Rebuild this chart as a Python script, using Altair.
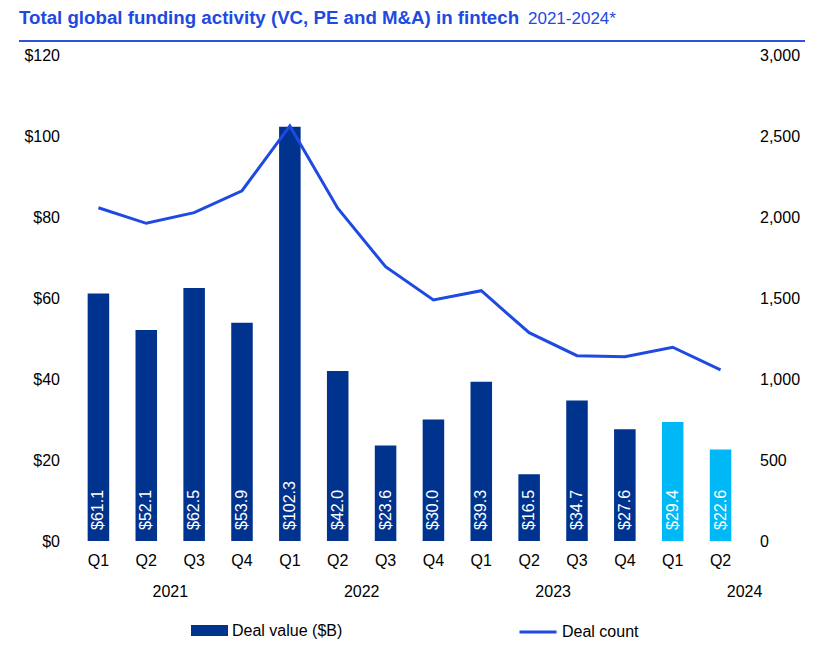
import altair as alt
import pandas as pd

# ---- data ----
years = ["2021"] * 4 + ["2022"] * 4 + ["2023"] * 4 + ["2024"] * 2
quarters = ["Q1", "Q2", "Q3", "Q4"] * 3 + ["Q1", "Q2"]
deal_value = [61.1, 52.1, 62.5, 53.9, 102.3, 42.0, 23.6, 30.0, 39.3, 16.5, 34.7, 27.6, 29.4, 22.6]
deal_count = [2057, 1961, 2027, 2162, 2562, 2054, 1693, 1488, 1545, 1286, 1144, 1138, 1196, 1056]
year_labels = ["2021", "2022", "2023", "2024"]
year_anchor = ["2021 Q2", "2022 Q2", "2023 Q2", "2024 Q2"]
title_main = "Total global funding activity (VC, PE and M&A) in fintech"
title_sub = "2021-2024*"

periods = [f"{y} {q}" for y, q in zip(years, quarters)]
df = pd.DataFrame({
    "period": periods,
    "year": [int(y) for y in years],
    "value": deal_value,
    "count": deal_count,
    "sbar": "Deal value ($B)",
    "sline": "Deal count",
})
df["label"] = ["$" + f"{v:.1f}" for v in deal_value]
ydf = pd.DataFrame({"period": year_anchor, "year": year_labels})

DARK = "#00338D"
LIGHT = "#00B8F5"
LINE = "#1E49E2"
FONT = "Liberation Sans"

W, H = 670, 486

xaxis = alt.Axis(title=None, labelExpr="split(datum.label, ' ')[1]", labelAngle=0,
                 domain=False, ticks=False, grid=False, labelFontSize=16,
                 labelPadding=11, labelColor="#000", labelFont=FONT)
xscale = alt.Scale(paddingInner=0.55, paddingOuter=0.275)


def xenc():
    return alt.X("period:N", sort=periods, scale=xscale, axis=xaxis)


base = alt.Chart(df)

bars = base.mark_bar().encode(
    x=xenc(),
    y=alt.Y("value:Q", scale=alt.Scale(domain=[0, 120], nice=False),
            axis=alt.Axis(title=None, orient="left", values=[0, 20, 40, 60, 80, 100, 120],
                          labelExpr="'$' + datum.value", domain=False, ticks=False, grid=False,
                          labelFontSize=16, labelPadding=15, labelColor="#000", labelFont=FONT)),
    fill=alt.when(alt.datum.year == 2024).then(alt.value(LIGHT)).otherwise(
        alt.Fill("sbar:N", scale=alt.Scale(domain=["Deal value ($B)"], range=[DARK]),
                 legend=alt.Legend(title=None, orient="none", legendX=116.5, legendY=557,
                                   symbolType="M-1,-0.3H1V0.3H-1Z", symbolSize=1369,
                                   symbolStrokeWidth=0, symbolOpacity=1,
                                   labelFontSize=16, labelColor="#000", labelOffset=4,
                                   padding=0, labelFont=FONT))
    ),
)

bar_labels = base.mark_text(angle=270, align="left", baseline="middle", dx=11,
                            color="white", fontSize=16, font=FONT).encode(
    x=xenc(),
    y=alt.datum(0, type="quantitative"),
    text="label:N",
)

year_text = alt.Chart(ydf).mark_text(dx=24, baseline="middle", fontSize=16,
                                     color="#000", font=FONT).encode(
    x=xenc(),
    y=alt.value(H + 51),
    text="year:N",
)

left = alt.layer(bars, bar_labels, year_text)

line = base.mark_line(strokeWidth=3).encode(
    x=xenc(),
    y=alt.Y("count:Q", scale=alt.Scale(domain=[0, 3000], nice=False),
            axis=alt.Axis(title=None, orient="right", values=[0, 500, 1000, 1500, 2000, 2500, 3000],
                          labelExpr="format(datum.value, ',')", domain=False, ticks=False,
                          grid=False, labelFontSize=16, labelPadding=15, labelColor="#000",
                          labelFont=FONT)),
    stroke=alt.Stroke("sline:N", scale=alt.Scale(domain=["Deal count"], range=[LINE]),
                      legend=alt.Legend(title=None, orient="none", legendX=443.5, legendY=557,
                                        symbolType="stroke", symbolSize=1369,
                                        symbolStrokeWidth=3, labelFontSize=16,
                                        labelColor="#000", labelOffset=4, padding=0,
                                        labelFont=FONT)),
)

tdf = pd.DataFrame({"t": [title_main], "s": [title_sub]})
title1 = alt.Chart(tdf).mark_text(align="left", baseline="alphabetic", fontSize=18.7,
                                  fontWeight="bold", color=LINE, font=FONT).encode(
    x=alt.value(-55.5), y=alt.value(-31.5), text="t:N")
title2 = alt.Chart(tdf).mark_text(align="left", baseline="alphabetic", fontSize=17,
                                  color=LINE, font=FONT).encode(
    x=alt.value(453.5), y=alt.value(-31.5), text="s:N")
rule = alt.Chart(tdf).mark_rule(color="#2F52D8", strokeWidth=2).encode(
    x=alt.value(-55.5), x2=alt.value(730.5), y=alt.value(-14))

chart = alt.layer(left, line, title1, title2, rule).resolve_scale(
    y="independent", fill="independent", stroke="independent"
).properties(
    width=W, height=H,
    autosize=alt.AutoSizeParams(type="none"),
    padding={"left": 66.5, "top": 47, "right": 80, "bottom": 100},
).configure(font=FONT, view=alt.ViewConfig(stroke=None))

chart.save("out.html", embed_options={"renderer": "svg", "actions": False})
